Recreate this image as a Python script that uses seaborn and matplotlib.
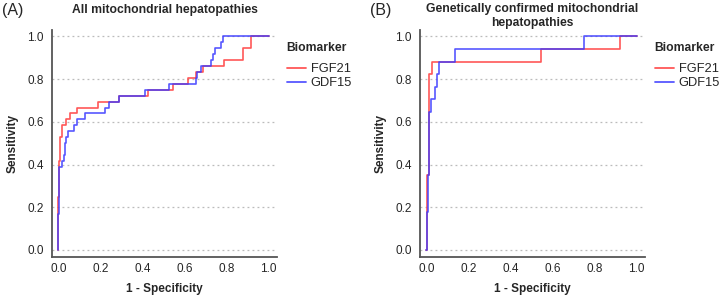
import numpy as np
import pandas as pd
import matplotlib
matplotlib.use("Agg")
import matplotlib.pyplot as plt
import seaborn as sns

# --- ROC corner points (1 - specificity, sensitivity) ---
# Panel A: all mitochondrial hepatopathies
a_fgf21_fpr = [0.0, 0.0, 0.003, 0.006, 0.010, 0.017, 0.038, 0.057, 0.088, 0.188, 0.288,
               0.428, 0.545, 0.618, 0.657, 0.690, 0.787, 0.880, 0.918, 1.0]
a_fgf21_tpr = [0.0, 0.250, 0.417, 0.500, 0.528, 0.583, 0.611, 0.639, 0.667, 0.694, 0.722,
               0.750, 0.778, 0.806, 0.833, 0.861, 0.889, 0.944, 1.0, 1.0]
a_gdf15_fpr = [0.0, 0.0, 0.003, 0.017, 0.025, 0.030, 0.036, 0.044, 0.076, 0.088, 0.125,
               0.222, 0.243, 0.289, 0.412, 0.527, 0.655, 0.660, 0.680, 0.728, 0.736,
               0.747, 0.775, 0.783, 1.0]
a_gdf15_tpr = [0.0, 0.167, 0.389, 0.417, 0.444, 0.500, 0.528, 0.556, 0.583, 0.611, 0.639,
               0.667, 0.694, 0.722, 0.750, 0.778, 0.806, 0.833, 0.861, 0.889, 0.917,
               0.944, 0.972, 1.0, 1.0]

# Panel B: genetically confirmed
b_fgf21_fpr = [0.0, 0.005, 0.014, 0.028, 0.545, 0.920, 1.0]
b_fgf21_tpr = [0.0, 0.353, 0.824, 0.882, 0.941, 1.0, 1.0]
b_gdf15_fpr = [0.0, 0.002, 0.008, 0.012, 0.022, 0.041, 0.050, 0.060, 0.137, 0.750, 1.0]
b_gdf15_tpr = [0.0, 0.176, 0.353, 0.647, 0.706, 0.765, 0.824, 0.882, 0.941, 1.0, 1.0]

titles = ["All mitochondrial hepatopathies",
          "Genetically confirmed mitochondrial\nhepatopathies"]
title_y = [1 - 10 / 297, 1 - 16 / 297]
panel_tags = ["(A)", "(B)"]
ticks = [0.0, 0.2, 0.4, 0.6, 0.8, 1.0]
colors = {"FGF21": "#ff3a3a", "GDF15": "#3a3aff"}


def make_df(fgf_x, fgf_y, gdf_x, gdf_y):
    return pd.concat([
        pd.DataFrame({"fpr": fgf_x, "tpr": fgf_y, "Biomarker": "FGF21"}),
        pd.DataFrame({"fpr": gdf_x, "tpr": gdf_y, "Biomarker": "GDF15"}),
    ], ignore_index=True)


dfs = [make_df(a_fgf21_fpr, a_fgf21_tpr, a_gdf15_fpr, a_gdf15_tpr),
       make_df(b_fgf21_fpr, b_fgf21_tpr, b_gdf15_fpr, b_gdf15_tpr)]

sns.set_style("white")
plt.rcParams["font.family"] = ["Liberation Sans", "DejaVu Sans"]

fig = plt.figure(figsize=(7.2, 2.97), dpi=100)
lefts = [52 / 720, 420 / 720]
width = 225 / 720

for i, df in enumerate(dfs):
    ax = fig.add_axes([lefts[i], 40 / 297, width, 227 / 297])
    sns.lineplot(data=df, x="fpr", y="tpr", hue="Biomarker", palette=colors,
                 sort=False, estimator=None, units="Biomarker", drawstyle="steps-post",
                 linewidth=1.2, alpha=0.85, ax=ax)
    ax.set_xlim(-0.03, 1.04)
    ax.set_ylim(-0.033, 1.03)
    ax.set_xticks(ticks)
    ax.set_yticks(ticks)
    ax.set_xticklabels([f"{t:.1f}" for t in ticks], fontsize=8.5)
    ax.set_yticklabels([f"{t:.1f}" for t in ticks], fontsize=8.5)
    ax.tick_params(axis="y", length=0, pad=6)
    ax.tick_params(axis="x", length=0, pad=4)
    ax.yaxis.grid(True, linestyle=(0, (1.5, 2.5)), color="#bbbbbb", linewidth=0.9)
    ax.xaxis.grid(False)
    for s in ["top", "right"]:
        ax.spines[s].set_visible(False)
    for s in ["left", "bottom"]:
        ax.spines[s].set_color("#555555")
        ax.spines[s].set_linewidth(1.3)
    ax.set_xlabel("1 - Specificity", fontsize=8.5, fontweight="bold", labelpad=6)
    ax.set_ylabel("Sensitivity", fontsize=8.5, fontweight="bold", labelpad=6)
    fig.text(lefts[i] + width / 2, title_y[i], titles[i], fontsize=8.7,
             fontweight="bold", ha="center", va="center", linespacing=1.2)
    leg = ax.legend(title="Biomarker", loc="upper left", bbox_to_anchor=(1.02, 0.97),
                    borderaxespad=0, frameon=False, fontsize=9.3, title_fontsize=8.7,
                    alignment="left", handlelength=1.5, handletextpad=0.35,
                    labelspacing=0.15)
    leg.get_title().set_fontweight("bold")
    leg._legend_box.sep = 6.5  # extra gap between title and entries
    for line in leg.get_lines():
        line.set_linewidth(1.3)
    fig.text(lefts[i] - 50 / 720, 1 - 11 / 297, panel_tags[i], fontsize=11.5,
             va="center", ha="left")

fig.savefig("out.png", dpi=100)
